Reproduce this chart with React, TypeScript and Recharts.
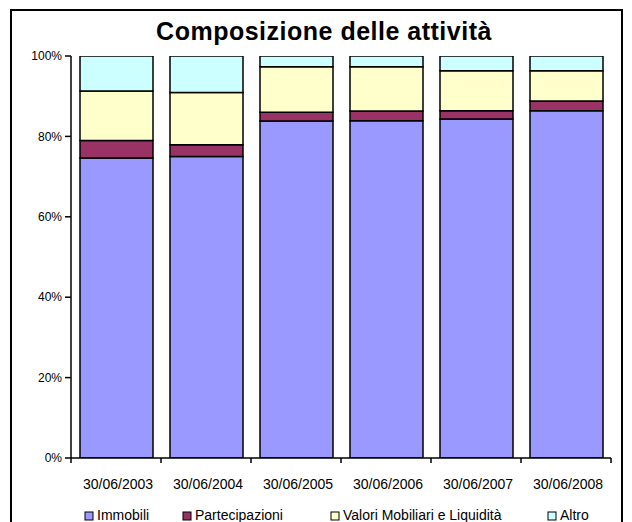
import { BarChart, Bar, XAxis, YAxis, Legend } from 'recharts';

const categories = ['30/06/2003', '30/06/2004', '30/06/2005', '30/06/2006', '30/06/2007', '30/06/2008'];
const immobili = [74.6, 75.0, 83.8, 83.9, 84.3, 86.4];
const partecipazioni = [4.4, 2.9, 2.2, 2.4, 2.1, 2.4];
const valori = [12.3, 13.0, 11.3, 11.0, 9.9, 7.5];
const altro = [8.7, 9.1, 2.7, 2.7, 3.7, 3.7];
const yTicks = [0, 20, 40, 60, 80, 100];

const series = [
  { key: 'immobili', name: 'Immobili', color: '#9999FF' },
  { key: 'partecipazioni', name: 'Partecipazioni', color: '#993366' },
  { key: 'valori', name: 'Valori Mobiliari e Liquidità', color: '#FFFFCC' },
  { key: 'altro', name: 'Altro', color: '#CCFFFF' },
];

const data = categories.map((date, i) => ({
  date,
  immobili: immobili[i],
  partecipazioni: partecipazioni[i],
  valori: valori[i],
  altro: altro[i],
}));

const FONT = '"Liberation Sans", Arial, sans-serif';
const BAND = 90;

// Excel-style category axis: labels centred, tick marks on the band edges
const DateTick = (props: any) => {
  const { x, y, payload, index } = props;
  return (
    <g>
      <line x1={x - BAND / 2} x2={x - BAND / 2} y1={y} y2={y + 5} stroke="#000" strokeWidth={1.5} />
      {index === categories.length - 1 && (
        <line x1={x + BAND / 2} x2={x + BAND / 2} y1={y} y2={y + 5} stroke="#000" strokeWidth={1.5} />
      )}
      <text x={x + 2} y={y + 31} textAnchor="middle" fontSize={14} fontFamily={FONT} fill="#000">
        {payload.value}
      </text>
    </g>
  );
};

const legendX = [85, 183, 331, 548];

const renderLegend = () => (
  <svg width={632} height={30} style={{ display: 'block' }}>
    {series.map((s, i) => (
      <g key={s.key}>
        <rect x={legendX[i]} y={12} width={8} height={8} fill={s.color} stroke="#000" strokeWidth={1} />
        <text x={legendX[i] + 12} y={20} fontSize={14} fontFamily={FONT} fill="#000">
          {s.name}
        </text>
      </g>
    ))}
  </svg>
);

export default function App() {
  return (
    <div style={{ position: 'absolute', left: 0, top: 0, width: 632, height: 522, overflow: 'hidden', background: '#fff' }}>
      <div
        style={{
          position: 'absolute',
          left: 10,
          top: 9,
          width: 609,
          height: 540,
          border: '2px solid #000',
        }}
      />
      <svg width={632} height={50} style={{ position: 'absolute', left: 0, top: 0 }}>
        <text x={324} y={40} textAnchor="middle" fontSize={25} fontWeight="bold" letterSpacing={0.5} fontFamily={FONT} fill="#000">
          Composizione delle attività
        </text>
      </svg>
      <div style={{ position: 'absolute', left: 0, top: 0 }}>
        <BarChart width={632} height={522} data={data} margin={{ top: 56, right: 21, bottom: 4, left: 11 }} barSize={73}>
          <XAxis
            dataKey="date"
            tick={<DateTick />}
            tickLine={false}
            tickSize={0}
            tickMargin={0}
            height={30}
            interval={0}
            axisLine={{ stroke: '#000', strokeWidth: 1.5 }}
          />
          <YAxis
            width={60}
            domain={[0, 100]}
            ticks={yTicks}
            tickFormatter={(v: number) => `${v}%`}
            tickSize={6}
            tickMargin={3}
            axisLine={{ stroke: '#000', strokeWidth: 1.5 }}
            tickLine={{ stroke: '#000', strokeWidth: 1.5 }}
            tick={{ fontSize: 12, fill: '#000', fontFamily: FONT }}
            allowDataOverflow
          />
          {series.map((s) => (
            <Bar
              key={s.key}
              dataKey={s.key}
              name={s.name}
              stackId="a"
              fill={s.color}
              stroke="#000"
              strokeWidth={1.5}
              isAnimationActive={false}
            />
          ))}
          <Legend
            content={renderLegend}
            wrapperStyle={{ position: 'absolute', left: 0, top: 500, width: 632, height: 30 }}
          />
        </BarChart>
      </div>
    </div>
  );
}
